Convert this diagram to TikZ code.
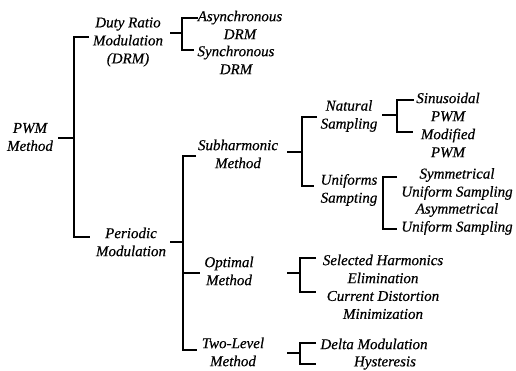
\documentclass[tikz,border=0pt]{standalone}
\usepackage{fontspec}
\setmainfont{Liberation Serif}
\newfontfamily\reffont{Liberation Serif}[ItalicFeatures={FakeBold=0.5}]
\begin{document}
\begin{tikzpicture}[x=1pt,y=-1pt,
  lbl/.style={align=center,inner sep=1.5pt,font=\fontsize{15}{18}\reffont\itshape},
  br/.style={line width=1.6pt,line join=miter}]
\useasboundingbox (0,0) rectangle (516,370);
% labels
\node[lbl] (pwm) at (30,137) {PWM\\Method};
\node[lbl] (drm) at (128,42) {Duty Ratio\\Modulation\\(DRM)};
\node[lbl] (async) at (240,25) {Asynchronous\\DRM};
\node[lbl] (sync) at (236,60) {Synchronous\\DRM};
\node[lbl] (periodic) at (131,242) {Periodic\\Modulation};
\node[lbl] (subh) at (238,154) {Subharmonic\\Method};
\node[lbl] (optimal) at (229,271) {Optimal\\Method};
\node[lbl] (twolevel) at (233,352) {Two-Level\\Method};
\node[lbl] (natural) at (349,116) {Natural\\Sampling};
\node[lbl] (uniforms) at (349,190) {Uniforms\\Sampting};
\node[lbl] (sinus) at (448,107) {Sinusoidal\\PWM};
\node[lbl] (modified) at (448,143) {Modified\\PWM};
\node[lbl] (symm) at (457,184) {Symmetrical\\Uniform Sampling};
\node[lbl] (asym) at (457,219) {Asymmetrical\\Uniform Sampling};
\node[lbl] (selected) at (383,269) {Selected Harmonics\\Elimination};
\node[lbl] (current) at (383,305) {Current Distortion\\Minimization};
\node[lbl] (delta) at (374,344) {Delta Modulation};
\node[lbl] (hyst) at (385,363) {Hysteresis};
% bracket coordinates
\coordinate (Aj) at (74,138);  \coordinate (At) at (74,37);  \coordinate (Ab) at (74,237);
\coordinate (Bj) at (182,33);  \coordinate (Bt) at (182,18); \coordinate (Bb) at (182,50);
\coordinate (Cj) at (183,242); \coordinate (Ct) at (183,156);\coordinate (Cm) at (183,273); \coordinate (Cb) at (183,350);
\coordinate (Dj) at (302,152); \coordinate (Dt) at (302,117);\coordinate (Db) at (302,186);
\coordinate (Ej) at (397,115); \coordinate (Et) at (397,100);\coordinate (Eb) at (397,132);
\coordinate (Ft) at (383,177); \coordinate (Fb) at (383,229);
\coordinate (Gj) at (300,273); \coordinate (Gt) at (300,258);\coordinate (Gb) at (300,292);
\coordinate (Hj) at (300,353); \coordinate (Ht) at (300,343);\coordinate (Hb) at (300,364);
% PWM Method
\draw[br] (Aj) -- ++(-16,0);
\draw[br] (At) ++(15,0) -- (At) -- (Ab) -- ++(16,0);
% DRM
\draw[br] (Bj) -- ++(-12,0);
\draw[br] (Bt) ++(16,0) -- (Bt) -- (Bb) -- ++(12,0);
% Periodic modulation
\draw[br] (Cj) -- ++(-13,0);
\draw[br] (Ct) ++(13,0) -- (Ct) -- (Cb) -- ++(14,0);
\draw[br] (Cm) -- ++(17,0);
% Subharmonic
\draw[br] (Dj) -- ++(-15,0);
\draw[br] (Dt) ++(15,0) -- (Dt) -- (Db) -- ++(12,0);
% Natural sampling
\draw[br] (Ej) -- ++(-15,0);
\draw[br] (Et) ++(17,0) -- (Et) -- (Eb) -- ++(16,0);
% Uniforms sampling
\draw[br] (Ft) ++(14,0) -- (Ft) -- (Fb) -- ++(14,0);
% Optimal
\draw[br] (Gj) -- ++(-13,0);
\draw[br] (Gt) ++(16,0) -- (Gt) -- (Gb) -- ++(16,0);
% Two-level
\draw[br] (Hj) -- ++(-13,0);
\draw[br] (Ht) ++(16,0) -- (Ht) -- (Hb) -- ++(16,0);
\end{tikzpicture}
\end{document}
